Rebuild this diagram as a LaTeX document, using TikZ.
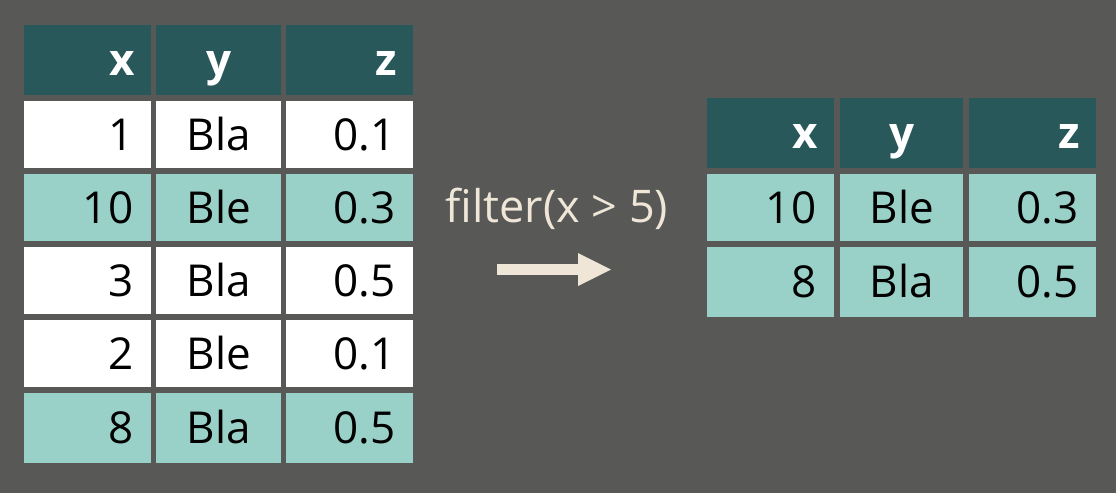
\documentclass[tikz,border=0pt]{standalone}
\usepackage{fontspec}
\setmainfont{Open Sans}
\definecolor{bgc}{HTML}{585856}
\definecolor{headc}{HTML}{28585A}
\definecolor{tealc}{HTML}{99D1C9}
\definecolor{beigec}{HTML}{EFE6D8}
\begin{document}
\begin{tikzpicture}[x=1pt,y=-1pt,
  cellbox/.style={inner sep=0pt, anchor=north west},
  headtxt/.style={font=\fontsize{44}{44}\selectfont\bfseries, text=white, inner sep=0pt},
  bodytxt/.style={font=\fontsize{44}{44}\selectfont, text=black, inner sep=0pt},
  notetxt/.style={font=\fontsize{45}{45}\selectfont, text=beigec, inner sep=0pt}]
\fill[bgc] (0,0) rectangle (1116,493);
\useasboundingbox (0,0) rectangle (1116,493);

% ---------- left table ----------
% header
\foreach \cx/\w/\t/\al [count=\c] in {24/127/x/r,156/125/y/c,286/127/z/r}{
  \node[cellbox, fill=headc, minimum width=\w pt, minimum height=70pt] (L-0-\c) at (\cx,25) {};
  \if r\al
    \node[headtxt, anchor=base east] (LT-0-\c) at ([xshift=-16pt,yshift=-15pt]L-0-\c.east) {\t};
  \else
    \node[headtxt, anchor=base] (LT-0-\c) at ([yshift=-15pt]L-0-\c.center) {\t};
  \fi
}
% body rows
\foreach \ry/\h/\fc/\a/\b/\cc [count=\r] in {
  101/67/white/1/Bla/0.1,
  174/67/tealc/10/Ble/0.3,
  247/67/white/3/Bla/0.5,
  320/67/white/2/Ble/0.1,
  393/70/tealc/8/Bla/0.5}{
  \node[cellbox, fill=\fc, minimum width=127pt, minimum height=\h pt] (L-\r-1) at (24,\ry) {};
  \node[cellbox, fill=\fc, minimum width=125pt, minimum height=\h pt] (L-\r-2) at (156,\ry) {};
  \node[cellbox, fill=\fc, minimum width=127pt, minimum height=\h pt] (L-\r-3) at (286,\ry) {};
  \node[bodytxt, anchor=base east] (LT-\r-1) at ([xshift=-18pt,yshift=-15.5pt]L-\r-1.east) {\a};
  \node[bodytxt, anchor=base] (LT-\r-2) at ([yshift=-15.5pt]L-\r-2.center) {\b};
  \node[bodytxt, anchor=base east] (LT-\r-3) at ([xshift=-18pt,yshift=-15.5pt]L-\r-3.east) {\cc};
}

% ---------- right table ----------
\foreach \cx/\w/\t/\al [count=\c] in {707/127/x/r,840/123/y/c,969/127/z/r}{
  \node[cellbox, fill=headc, minimum width=\w pt, minimum height=70pt] (R-0-\c) at (\cx,98) {};
  \if r\al
    \node[headtxt, anchor=base east] (RT-0-\c) at ([xshift=-16pt,yshift=-15pt]R-0-\c.east) {\t};
  \else
    \node[headtxt, anchor=base] (RT-0-\c) at ([yshift=-15pt]R-0-\c.center) {\t};
  \fi
}
\foreach \ry/\h/\fc/\a/\b/\cc [count=\r] in {
  174/67/tealc/10/Ble/0.3,
  247/70/tealc/8/Bla/0.5}{
  \node[cellbox, fill=\fc, minimum width=127pt, minimum height=\h pt] (R-\r-1) at (707,\ry) {};
  \node[cellbox, fill=\fc, minimum width=123pt, minimum height=\h pt] (R-\r-2) at (840,\ry) {};
  \node[cellbox, fill=\fc, minimum width=127pt, minimum height=\h pt] (R-\r-3) at (969,\ry) {};
  \node[bodytxt, anchor=base east] (RT-\r-1) at ([xshift=-18pt,yshift=-15.5pt]R-\r-1.east) {\a};
  \node[bodytxt, anchor=base] (RT-\r-2) at ([yshift=-15.5pt]R-\r-2.center) {\b};
  \node[bodytxt, anchor=base east] (RT-\r-3) at ([xshift=-18pt,yshift=-15.5pt]R-\r-3.east) {\cc};
}

% ---------- operation label and arrow ----------
\node[notetxt, anchor=base] (op) at (557,222) {filter(x > 5)};
\coordinate (arS) at (497,269.5);
\coordinate (arE) at (578,269.5);
\fill[beigec] (497,264) rectangle (579,275);
\fill[beigec] (578,253) -- (611,269.5) -- (578,286) -- cycle;
\end{tikzpicture}
\end{document}
